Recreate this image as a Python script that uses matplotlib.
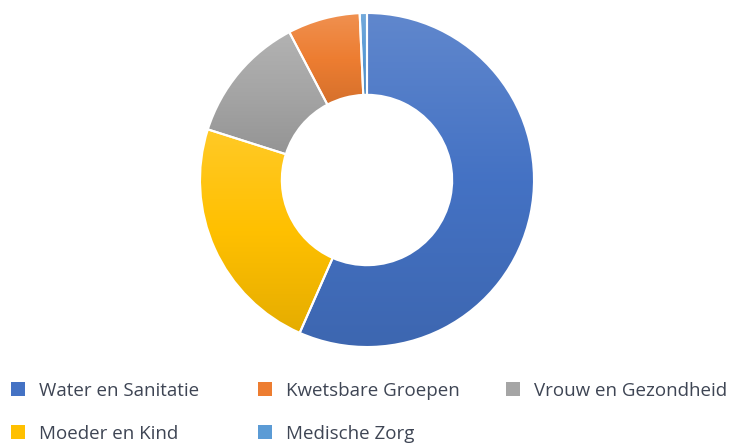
import numpy as np
import matplotlib.pyplot as plt
from matplotlib.colors import to_rgb
from matplotlib.patches import Rectangle

# slices, clockwise from 12 o'clock
labels = ["Water en Sanitatie", "Moeder en Kind", "Vrouw en Gezondheid",
          "Kwetsbare Groepen", "Medische Zorg"]
values = [56.6, 23.3, 12.4, 7.0, 0.7]
colors = ["#4472C4", "#FFC000", "#A5A5A5", "#ED7D31", "#5B9BD5"]

# legend entries, row by row as in the picture
legend_order = ["Water en Sanitatie", "Kwetsbare Groepen", "Vrouw en Gezondheid",
                "Moeder en Kind", "Medische Zorg"]

W, H = 733, 443
fig = plt.figure(figsize=(W / 100, H / 100), dpi=100)

# ── Donut ────────────────────────────────────────────────────────────────────
cx, cy, r = 367, 180, 167
ax = fig.add_axes([(cx - r) / W, (H - cy - r) / H, 2 * r / W, 2 * r / H])
wedges, _ = ax.pie(values, colors=colors, startangle=90, counterclock=False,
                   radius=1,
                   wedgeprops=dict(width=0.49, edgecolor="white", linewidth=1.5))

# soft top-to-bottom gradient inside each slice (Office look)
t = np.linspace(0, 1, 128)[:, None]
for w in wedges:
    base = np.array(w.get_facecolor()[:3])
    top = base + (1 - base) * 0.15
    bot = base * 0.90
    grad = np.where(t < 0.5, top + (base - top) * (t / 0.5),
                    base + (bot - base) * ((t - 0.5) / 0.5))
    ext = w.get_path().get_extents()
    im = ax.imshow(grad[:, None, :], extent=[ext.x0, ext.x1, ext.y0, ext.y1],
                   origin="upper", aspect="auto", interpolation="bilinear",
                   zorder=w.get_zorder() - 0.5)
    im.set_clip_path(w)
    w.set_facecolor("none")

ax.set_xlim(-1, 1)
ax.set_ylim(-1, 1)
ax.set_aspect("equal")
ax.axis("off")

# ── Legend (placed by hand, pixel positions) ─────────────────────────────────
cmap = dict(zip(labels, colors))
col_x = [11, 258, 506]        # left edge of the swatch
row_base = [396, 439]         # text baseline
sq = 14
for i, name in enumerate(legend_order):
    row, col = divmod(i, 3)
    x0 = col_x[col]
    yb = row_base[row]
    fig.patches.append(Rectangle((x0 / W, (H - yb) / H), sq / W, sq / H,
                                 transform=fig.transFigure,
                                 facecolor=cmap[name], edgecolor="none"))
    fig.text((x0 + 28) / W, (H - yb) / H, name, family="Open Sans",
             fontsize=13.5, color="#3e4554", va="baseline", ha="left")

fig.savefig("out.png", dpi=100)
